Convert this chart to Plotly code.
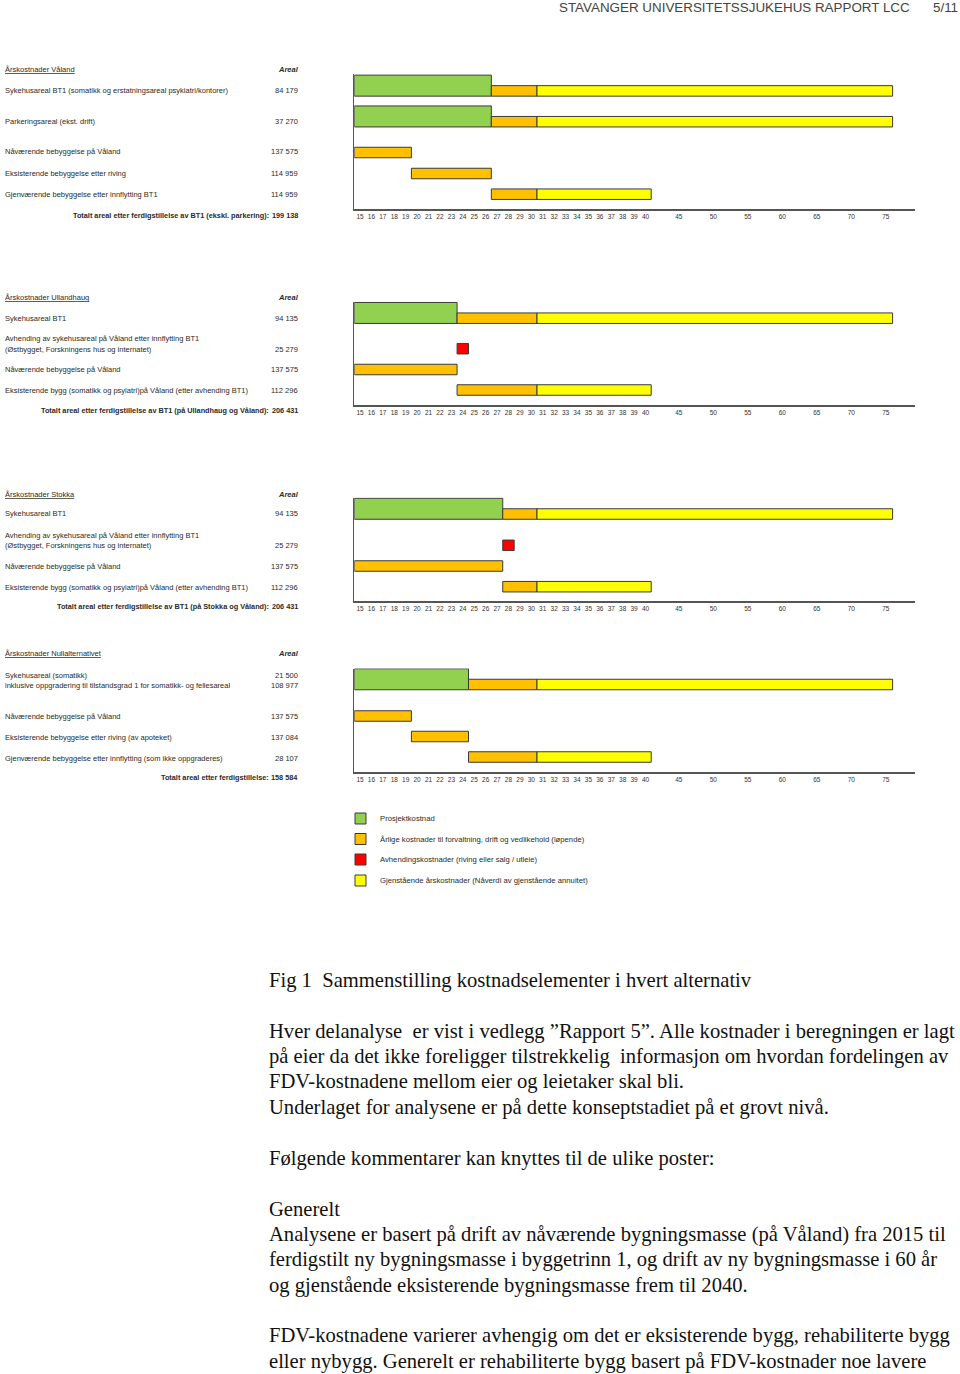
import plotly.graph_objects as go

# ---------------- DATA ----------------
TICK_YEARS = list(range(15, 41)) + list(range(45, 80, 5))
CATEGORIES = ["Prosjektkostnad",
              "Årlige kostnader til forvaltning, drift og vedlikehold (løpende)",
              "Avhendingskostnader (riving eller salg / utleie)",
              "Gjenstående årskostnader (Nåverdi av gjenstående annuitet)"]
CAT_KEYS = ["prosjekt", "fdv", "avh", "rest"]

valand_title = "Årskostnader Våland"
valand_labels = ["Sykehusareal BT1 (somatikk og erstatningsareal psykiatri/kontorer)",
                 "Parkeringsareal (ekst. drift)",
                 "Nåværende bebyggelse på Våland",
                 "Eksisterende bebyggelse etter riving",
                 "Gjenværende bebyggelse etter innflytting BT1"]
valand_areal = ["84 179", "37 270", "137 575", "114 959", "114 959"]
valand_total = ("Totalt areal etter ferdigstillelse av BT1 (ekskl. parkering):", "199 138")
valand_segments = [(0, "prosjekt", 15, 26), (0, "fdv", 27, 30), (0, "rest", 31, 75),
                   (1, "prosjekt", 15, 26), (1, "fdv", 27, 30), (1, "rest", 31, 75),
                   (2, "fdv", 15, 19),
                   (3, "fdv", 20, 26),
                   (4, "fdv", 27, 30), (4, "rest", 31, 40)]

ulland_title = "Årskostnader Ullandhaug"
ulland_labels = ["Sykehusareal BT1",
                 "Avhending av sykehusareal på Våland etter innflytting BT1",
                 "(Østbygget, Forskningens hus og internatet)",
                 "Nåværende bebyggelse på Våland",
                 "Eksisterende bygg (somatikk og psyiatri)på Våland (etter avhending BT1)"]
ulland_areal = ["94 135", "", "25 279", "137 575", "112 296"]
ulland_total = ("Totalt areal etter ferdigstillelse av BT1 (på Ullandhaug og Våland):", "206 431")
ulland_segments = [(0, "prosjekt", 15, 23), (0, "fdv", 24, 30), (0, "rest", 31, 75),
                   (1, "avh", 24, 24),
                   (2, "fdv", 15, 23),
                   (3, "fdv", 24, 30), (3, "rest", 31, 40)]

stokka_title = "Årskostnader Stokka"
stokka_labels = ["Sykehusareal BT1",
                 "Avhending av sykehusareal på Våland etter innflytting BT1",
                 "(Østbygget, Forskningens hus og internatet)",
                 "Nåværende bebyggelse på Våland",
                 "Eksisterende bygg (somatikk og psyiatri)på Våland (etter avhending BT1)"]
stokka_areal = ["94 135", "", "25 279", "137 575", "112 296"]
stokka_total = ("Totalt areal etter ferdigstillelse av BT1 (på Stokka og Våland):", "206 431")
stokka_segments = [(0, "prosjekt", 15, 27), (0, "fdv", 28, 30), (0, "rest", 31, 75),
                   (1, "avh", 28, 28),
                   (2, "fdv", 15, 27),
                   (3, "fdv", 28, 30), (3, "rest", 31, 40)]

null_title = "Årskostnader Nullalternativet"
null_labels = ["Sykehusareal (somatikk)",
               "inklusive oppgradering til tilstandsgrad 1 for somatikk- og fellesareal",
               "Nåværende bebyggelse på Våland",
               "Eksisterende bebyggelse etter riving (av apoteket)",
               "Gjenværende bebyggelse etter innflytting (som ikke oppgraderes)"]
null_areal = ["21 500", "108 977", "137 575", "137 084", "28 107"]
null_total = ("Totalt areal etter ferdigstillelse:", "158 584")
null_segments = [(0, "prosjekt", 15, 24), (0, "fdv", 25, 30), (0, "rest", 31, 75),
                 (1, "fdv", 15, 19),
                 (2, "fdv", 20, 24),
                 (3, "fdv", 25, 30), (3, "rest", 31, 40)]

header_text = "STAVANGER UNIVERSITETSSJUKEHUS RAPPORT LCC"
page_text = "5/11"
body_lines = ["Fig 1  Sammenstilling kostnadselementer i hvert alternativ",
              "Hver delanalyse  er vist i vedlegg ”Rapport 5”. Alle kostnader i beregningen er lagt",
              "på eier da det ikke foreligger tilstrekkelig  informasjon om hvordan fordelingen av",
              "FDV-kostnadene mellom eier og leietaker skal bli.",
              "Underlaget for analysene er på dette konseptstadiet på et grovt nivå.",
              "Følgende kommentarer kan knyttes til de ulike poster:",
              "Generelt",
              "Analysene er basert på drift av nåværende bygningsmasse (på Våland) fra 2015 til",
              "ferdigstilt ny bygningsmasse i byggetrinn 1, og drift av ny bygningsmasse i 60 år",
              "og gjenstående eksisterende bygningsmasse frem til 2040.",
              "FDV-kostnadene varierer avhengig om det er eksisterende bygg, rehabiliterte bygg",
              "eller nybygg. Generelt er rehabiliterte bygg basert på FDV-kostnader noe lavere"]

# ---------------- LAYOUT / STYLE ----------------
W, H = 960, 1374
def px(x): return x / W
def py(y): return 1 - y / H

COLORS = {"prosjekt": "#92D050", "fdv": "#FFC000", "avh": "#FF0000", "rest": "#FFFF00"}
K = 0.604  # compressed scale after year 40

def pos(t):
    if t <= 40.5:
        return t - 15
    return 25.5 + (t - 40.5) * K

def tick_pos(y):
    return pos(y) if y <= 40 else pos(y) - 0.3

SMALL = "Liberation Sans"
SMALL_SIZE = 7.5
TXT_COL = "#2a2a2a"

panels = [
    dict(title=valand_title, labels=valand_labels, areal=valand_areal, total=valand_total,
         segs=valand_segments, top=74, axis=209.3, title_y=70,
         text_y=[90, 121, 152, 173, 194], total_y=215,
         row_y=[90.9, 121.7, 152.5, 173.5, 194.2]),
    dict(title=ulland_title, labels=ulland_labels, areal=ulland_areal, total=ulland_total,
         segs=ulland_segments, top=301.5, axis=405, title_y=297,
         text_y=[318, 339, 349.5, 370, 390.5], total_y=411,
         row_y=[318.2, 348.7, 369.5, 390]),
    dict(title=stokka_title, labels=stokka_labels, areal=stokka_areal, total=stokka_total,
         segs=stokka_segments, top=497.5, axis=601.3, title_y=494,
         text_y=[514, 535, 545.5, 566, 587], total_y=607,
         row_y=[514, 545.3, 566, 586.7]),
    dict(title=null_title, labels=null_labels, areal=null_areal, total=null_total,
         segs=null_segments, top=668.5, axis=772, title_y=653,
         text_y=[675, 685.5, 716, 737, 758], total_y=778,
         row_y=[684.5, 716, 736.5, 757]),
]

THIN = 10.5
THICK = 21

fig = go.Figure()
annotations = []
shapes = []

def txt(x, y, s, size=SMALL_SIZE, anchor="left", family=SMALL, color=TXT_COL):
    annotations.append(dict(x=px(x), y=py(y), xref="paper", yref="paper", text=s,
                            showarrow=False, xanchor=anchor, yanchor="middle",
                            font=dict(family=family, size=size, color=color),
                            borderpad=0))

layout_axes = {}
for i, p in enumerate(panels, start=1):
    xa = "x" if i == 1 else f"x{i}"
    ya = "y" if i == 1 else f"y{i}"
    for key in CAT_KEYS:
        segs = [s for s in p["segs"] if s[1] == key]
        if not segs:
            continue
        ys, xs, bases, widths = [], [], [], []
        for row, _, a, b in segs:
            start, end = pos(a - 0.5), pos(b + 0.5)
            if key == "prosjekt":
                ys.append(p["row_y"][row] + THIN / 2 - THICK / 2)
                widths.append(THICK)
            else:
                ys.append(p["row_y"][row])
                widths.append(THIN)
            bases.append(start)
            xs.append(end - start)
        fig.add_trace(go.Bar(orientation="h", y=ys, x=xs, base=bases, width=widths,
                             marker=dict(color=COLORS[key], line=dict(color="#3a3a3a", width=1)),
                             xaxis=xa, yaxis=ya, showlegend=False, hoverinfo="skip"))
    xname = "xaxis" if i == 1 else f"xaxis{i}"
    yname = "yaxis" if i == 1 else f"yaxis{i}"
    layout_axes[xname] = dict(domain=[px(354.3), px(915)], range=[-0.5, 48.6],
                              anchor=ya, showline=True, linecolor="#555555", linewidth=1.6,
                              showgrid=False, zeroline=False, ticks="",
                              tickvals=[tick_pos(t) for t in TICK_YEARS],
                              ticktext=[str(t) for t in TICK_YEARS], tickangle=0,
                              tickfont=dict(family=SMALL, size=6.5, color="#333333"),
                              fixedrange=True)
    layout_axes[yname] = dict(domain=[py(p["axis"]), py(p["top"])], range=[p["axis"], p["top"]],
                              anchor=xa, showline=True, linecolor="#555555", linewidth=1.4,
                              showgrid=False, zeroline=False, showticklabels=False,
                              ticks="", fixedrange=True)

    # left-hand table
    txt(4, p["title_y"], f"<u>{p['title']}</u>")
    txt(288, p["title_y"], "<b><i>Areal</i></b>", anchor="center")
    for ty, lab, ar in zip(p["text_y"], p["labels"], p["areal"]):
        txt(4, ty, lab)
        if ar:
            txt(299, ty, ar, anchor="right")
    txt(270, p["total_y"], f"<b>{p['total'][0]}</b>", size=7.3, anchor="right")
    txt(299, p["total_y"], f"<b>{p['total'][1]}</b>", size=7.3, anchor="right")

# legend
legend_y = [818.5, 839, 859.5, 880.5]
for key, name, ly in zip(CAT_KEYS, CATEGORIES, legend_y):
    shapes.append(dict(type="rect", xref="paper", yref="paper",
                       x0=px(355), x1=px(366), y0=py(ly + 5.5), y1=py(ly - 5.5),
                       fillcolor=COLORS[key], line=dict(color="#3a3a3a", width=1)))
    txt(379, ly, name, size=7.7)

# header
txt(911, 7, header_text, size=13.4, anchor="right", color="#444444")
txt(959, 7, page_text, size=13.4, anchor="right", color="#444444")

# body text
body_y = [980, 1031, 1056, 1081.5, 1107, 1158, 1209, 1234, 1259.5, 1285, 1335.5, 1361]
for by, line in zip(body_y, body_lines):
    txt(268, by, line, size=20.6, family="Liberation Serif", color="#111111")

fig.update_layout(width=W, height=H, margin=dict(l=0, r=0, t=0, b=0),
                  paper_bgcolor="white", plot_bgcolor="white",
                  barmode="overlay", showlegend=False,
                  annotations=annotations, shapes=shapes, **layout_axes)

fig.write_html("out.html")
